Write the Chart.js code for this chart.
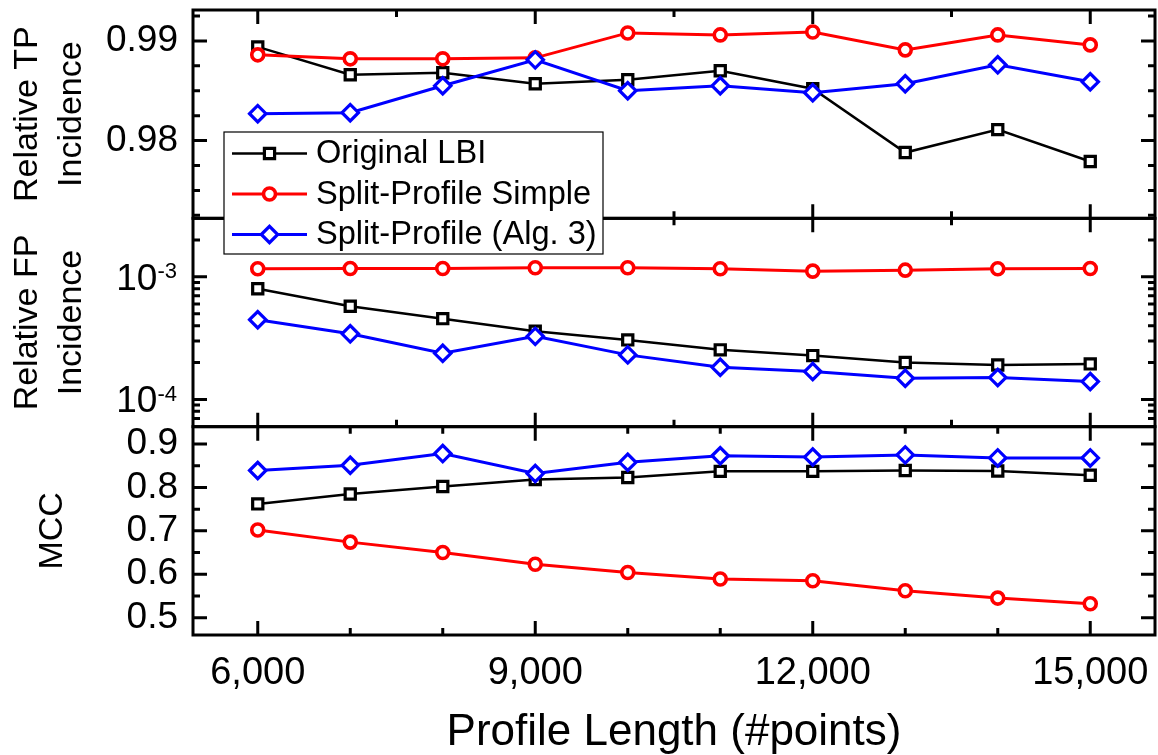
<!DOCTYPE html>
<html>
<head>
<meta charset="utf-8">
<script src="https://cdn.jsdelivr.net/npm/chart.js@4/dist/chart.umd.min.js"></script>
<style>
  html, body { margin: 0; padding: 0; background: #fff; overflow: hidden; }
  #wrap { position: relative; width: 1158px; height: 755px; }
</style>
</head>
<body>
<div id="wrap"><canvas id="profile_chart"></canvas></div>
<script>
'use strict';

// x values (profile length, #points)
var lengths = [6000, 7000, 8000, 9000, 10000, 11000, 12000, 13000, 14000, 15000];

// Relative TP incidence
var tpLBI = [0.9894, 0.9866, 0.9868, 0.9857, 0.9861, 0.9870, 0.9852, 0.9788, 0.9811, 0.9779];
var tpSimple = [0.9886, 0.9882, 0.9882, 0.9883, 0.9908, 0.9906, 0.9909, 0.9891, 0.9906, 0.9896];
var tpAlg3 = [0.9827, 0.9828, 0.9855, 0.9881, 0.9850, 0.9855, 0.9848, 0.9857, 0.9876, 0.9859];

// Relative FP incidence (log)
var fpLBI = [8.0e-4, 5.75e-4, 4.56e-4, 3.6e-4, 3.06e-4, 2.54e-4, 2.28e-4, 2.0e-4, 1.91e-4, 1.95e-4];
var fpSimple = [1.164e-3, 1.17e-3, 1.17e-3, 1.185e-3, 1.185e-3, 1.164e-3, 1.113e-3, 1.134e-3, 1.164e-3, 1.17e-3];
var fpAlg3 = [4.47e-4, 3.43e-4, 2.38e-4, 3.27e-4, 2.31e-4, 1.83e-4, 1.69e-4, 1.49e-4, 1.51e-4, 1.40e-4];

// MCC
var mccLBI = [0.762, 0.785, 0.802, 0.818, 0.823, 0.837, 0.837, 0.839, 0.838, 0.828];
var mccSimple = [0.702, 0.674, 0.650, 0.623, 0.604, 0.589, 0.585, 0.562, 0.545, 0.532];
var mccAlg3 = [0.839, 0.851, 0.878, 0.832, 0.858, 0.873, 0.870, 0.875, 0.868, 0.868];

// tick labels / positions
var xTicks = [6000, 9000, 12000, 15000];
var xMinorTop = [7500, 10500, 13500];
var xMinorBottom = [7000, 8000, 10000, 11000, 13000, 14000];
var tpTicks = [0.98, 0.99];
var tpMinor = [0.9725, 0.975, 0.9775, 0.9825, 0.985, 0.9875, 0.9925];
var fpTicks = [1e-4, 1e-3];
var fpExponents = ['-4', '-3'];
var fpMinor = [7e-5, 8e-5, 9e-5, 2e-4, 3e-4, 4e-4, 5e-4, 6e-4, 7e-4, 8e-4, 9e-4, 2e-3];
var mccTicks = [0.5, 0.6, 0.7, 0.8, 0.9];
var mccMinor = [0.55, 0.65, 0.75, 0.85];

var seriesNames = ['Original LBI', 'Split-Profile Simple', 'Split-Profile (Alg. 3)'];
var xTitle = 'Profile Length (#points)';

var FONT = "'Liberation Sans', Arial, sans-serif";

var toPoints = function(ys) {
  return lengths.map(function(x, i) { return { x: x, y: ys[i] }; });
};

// style per series: black squares, red circles, blue diamonds
var styles = [
  { color: '#000000', width: 2.5, pointStyle: 'rect', radius: 7.2, bw: 3.2, order: 3 },
  { color: '#ff0000', width: 3, pointStyle: 'circle', radius: 6, bw: 3.6, order: 2 },
  { color: '#0000ff', width: 3, pointStyle: 'rectRot', radius: 8.2, bw: 3.2, order: 1 }
];

var makeSet = function(idx, data, axis) {
  var s = styles[idx];
  return {
    label: seriesNames[idx],
    data: toPoints(data),
    yAxisID: axis,
    borderColor: s.color,
    borderWidth: s.width,
    pointStyle: s.pointStyle,
    pointRadius: s.radius,
    pointHoverRadius: s.radius,
    pointBorderWidth: s.bw,
    pointBackgroundColor: '#ffffff',
    pointBorderColor: s.color,
    tension: 0,
    order: s.order
  };
};

// frame + inward ticks for every panel, FP labels with superscript, legend
var framePlugin = {
  id: 'panelFrames',
  afterDraw: function(chart) {
    var ctx = chart.ctx;
    var area = chart.chartArea;
    var xs = chart.scales.x;
    var panels = [
      { s: chart.scales.yTP, major: tpTicks, minor: tpMinor, xMinor: xMinorTop },
      { s: chart.scales.yFP, major: fpTicks, minor: fpMinor, xMinor: xMinorTop },
      { s: chart.scales.yMCC, major: mccTicks, minor: mccMinor, xMinor: xMinorBottom }
    ];
    var MAJ = 14, MIN = 7;

    ctx.save();
    ctx.strokeStyle = '#000';
    ctx.lineWidth = 3;
    ctx.lineCap = 'butt';
    panels.forEach(function(p) {
      var top = p.s.top, bottom = p.s.bottom;
      ctx.beginPath();
      var tick = function(x1, y1, x2, y2) { ctx.moveTo(x1, y1); ctx.lineTo(x2, y2); };
      p.major.forEach(function(v) {
        var y = p.s.getPixelForValue(v);
        tick(area.left, y, area.left + MAJ, y);
        tick(area.right, y, area.right - MAJ, y);
      });
      p.minor.forEach(function(v) {
        var y = p.s.getPixelForValue(v);
        tick(area.left, y, area.left + MIN, y);
        tick(area.right, y, area.right - MIN, y);
      });
      xTicks.forEach(function(v) {
        var x = xs.getPixelForValue(v);
        tick(x, top, x, top + MAJ);
        tick(x, bottom, x, bottom - MAJ);
      });
      p.xMinor.forEach(function(v) {
        var x = xs.getPixelForValue(v);
        tick(x, top, x, top + MIN);
        tick(x, bottom, x, bottom - MIN);
      });
      ctx.stroke();
      ctx.strokeRect(area.left, top, area.right - area.left, bottom - top);
    });

    // FP tick labels: 10 with superscript exponent
    var fp = chart.scales.yFP;
    var rx = area.left - 16;
    ctx.fillStyle = '#000';
    ctx.textAlign = 'right';
    ctx.textBaseline = 'alphabetic';
    fpTicks.forEach(function(v, i) {
      var y = fp.getPixelForValue(v);
      ctx.font = '22px ' + FONT;
      ctx.fillText(fpExponents[i], rx, y + 1.5);
      var w = ctx.measureText(fpExponents[i]).width;
      ctx.font = '37px ' + FONT;
      ctx.fillText('10', rx - w, y + 13);
    });

    // legend box
    var lx = 224, ly = 132, lw = 379, lh = 122;
    ctx.fillStyle = '#fff';
    ctx.fillRect(lx, ly, lw, lh);
    ctx.lineWidth = 1.2;
    ctx.strokeStyle = '#000';
    ctx.strokeRect(lx, ly, lw, lh);
    var rows = [153.5, 194, 234.5];
    styles.forEach(function(s, i) {
      var y = rows[i];
      ctx.beginPath();
      ctx.strokeStyle = s.color;
      ctx.lineWidth = s.width;
      ctx.moveTo(232, y);
      ctx.lineTo(307, y);
      ctx.stroke();
      ctx.fillStyle = '#fff';
      ctx.lineWidth = s.bw;
      Chart.helpers.drawPoint(ctx, { pointStyle: s.pointStyle, rotation: 0, radius: s.radius, borderWidth: s.bw }, 269.5, y);
      ctx.fillStyle = '#000';
      ctx.font = '32.6px ' + FONT;
      ctx.textAlign = 'left';
      ctx.textBaseline = 'middle';
      ctx.fillText(seriesNames[i], 316, y + 1);
    });
    ctx.restore();
  }
};

var yTickFont = { family: FONT, size: 37 };
var yTitleFont = { family: FONT, size: 34, lineHeight: 1.31 };
var noPad = function(scale) {
  scale.paddingLeft = 0;
  scale.paddingRight = 0;
  scale.paddingTop = 0;
  scale.paddingBottom = 0;
};
var fixWidth = function(scale) {
  scale.width = 188;
  noPad(scale);
};

var canvas = document.getElementById('profile_chart').getContext('2d');
var profileChart = new Chart(canvas, {
  type: 'line',
  data: {
    datasets: [
      makeSet(0, tpLBI, 'yTP'), makeSet(1, tpSimple, 'yTP'), makeSet(2, tpAlg3, 'yTP'),
      makeSet(0, fpLBI, 'yFP'), makeSet(1, fpSimple, 'yFP'), makeSet(2, fpAlg3, 'yFP'),
      makeSet(0, mccLBI, 'yMCC'), makeSet(1, mccSimple, 'yMCC'), makeSet(2, mccAlg3, 'yMCC')
    ]
  },
  options: {
    animation: false,
    responsive: true,
    maintainAspectRatio: false,
    events: [],
    layout: { autoPadding: false, padding: { left: 5, top: 10, right: 3, bottom: 0 } },
    plugins: {
      legend: { display: false },
      tooltip: { enabled: false }
    },
    scales: {
      x: {
        type: 'linear',
        position: 'bottom',
        min: 5300,
        max: 15700,
        grid: { display: false, drawTicks: false },
        border: { display: false },
        afterBuildTicks: function(scale) {
          scale.ticks = xTicks.map(function(v) { return { value: v }; });
        },
        afterFit: function(scale) {
          scale.height = 120;
          noPad(scale);
        },
        ticks: {
          color: '#000',
          font: { family: FONT, size: 38 },
          padding: 16,
          maxRotation: 0,
          autoSkip: false,
          callback: function(v) { return Number(v).toLocaleString('en-US'); }
        },
        title: {
          display: true,
          text: xTitle,
          color: '#000',
          font: { family: FONT, size: 44, lineHeight: 1 },
          padding: { top: 0, bottom: 0 }
        }
      },
      yTP: {
        type: 'linear',
        position: 'left',
        stack: 'panels',
        stackWeight: 1,
        weight: 3,
        min: 0.9722,
        max: 0.9931,
        grid: { display: false, drawTicks: false },
        border: { display: false },
        afterBuildTicks: function(scale) {
          scale.ticks = tpTicks.map(function(v) { return { value: v }; });
        },
        afterFit: fixWidth,
        ticks: {
          color: '#000',
          font: yTickFont,
          padding: 15,
          autoSkip: false,
          callback: function(v) { return Number(v).toFixed(2); }
        },
        title: {
          display: true,
          text: ['Relative TP', 'Incidence'],
          color: '#000',
          font: yTitleFont,
          padding: { top: 0, bottom: 0 }
        }
      },
      yFP: {
        type: 'logarithmic',
        position: 'left',
        stack: 'panels',
        stackWeight: 1,
        weight: 2,
        min: 6e-5,
        max: 3e-3,
        grid: { display: false, drawTicks: false },
        border: { display: false },
        afterBuildTicks: function(scale) {
          scale.ticks = fpTicks.map(function(v) { return { value: v }; });
        },
        afterFit: fixWidth,
        ticks: { display: false },
        title: {
          display: true,
          text: ['Relative FP', 'Incidence'],
          color: '#000',
          font: yTitleFont,
          padding: { top: 0, bottom: 0 }
        }
      },
      yMCC: {
        type: 'linear',
        position: 'left',
        stack: 'panels',
        stackWeight: 1,
        weight: 1,
        min: 0.46,
        max: 0.94,
        grid: { display: false, drawTicks: false },
        border: { display: false },
        afterBuildTicks: function(scale) {
          scale.ticks = mccTicks.map(function(v) { return { value: v }; });
        },
        afterFit: fixWidth,
        ticks: {
          color: '#000',
          font: yTickFont,
          padding: 15,
          autoSkip: false,
          callback: function(v) { return Number(v).toFixed(1); }
        },
        title: {
          display: true,
          text: 'MCC',
          color: '#000',
          font: yTitleFont,
          padding: { top: 25, bottom: 0 }
        }
      }
    }
  },
  plugins: [framePlugin]
});
</script>
</body>
</html>
